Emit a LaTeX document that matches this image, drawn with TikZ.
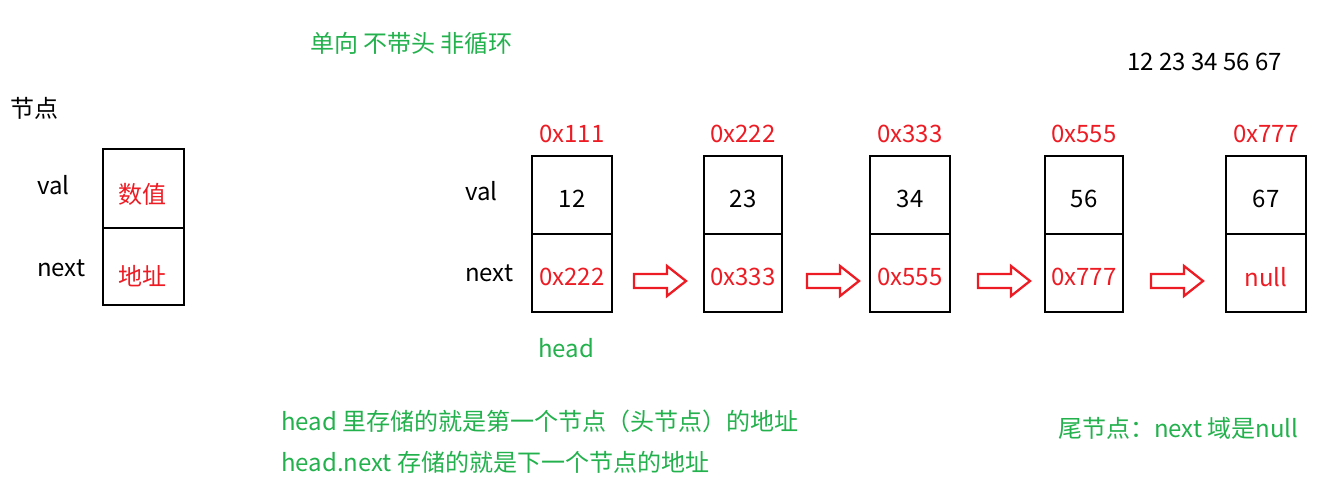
\documentclass[tikz,border=0pt]{standalone}
\usepackage{fontspec}
\setmainfont{Noto Sans CJK SC}
\begin{document}
\begin{tikzpicture}[x=1pt,y=-1pt,
  lbl/.style={inner sep=0pt,anchor=west,font=\fontsize{24}{27}\selectfont},
  grn/.style={lbl,text={rgb,255:red,34;green,177;blue,76}},
  rd/.style={lbl,text={rgb,255:red,237;green,28;blue,36}},
  cell/.style={draw,line width=2.5pt},
  harrow/.style={draw={rgb,255:red,237;green,28;blue,36},line width=2.3pt,line join=miter}]
\useasboundingbox (0,0) rectangle (1326,480);
\node[grn] (t) at (310,43) {单向 不带头 非循环};
\node[lbl] (seq) at (1127,62) {12 23 34 56 67};
\node[lbl] (jd) at (10,108) {节点};
\node[lbl] (v0) at (37,185) {val};
\node[lbl] (n0) at (37,268) {next};
\draw[cell] (103,149) rectangle (184,305);
\draw[cell] (103,228) -- (184,228);
\node[rd] (a0) at (118,194) {数值};
\node[rd] (b0) at (118,276) {地址};
\node[lbl] (v1) at (465,191) {val};
\node[lbl] (n1) at (465,273) {next};
\foreach \x/\w/\ad/\va/\nx/\i in {532/80/0x111/12/0x222/1,704/78/0x222/23/0x333/2,870/80/0x333/34/0x555/3,1045/78/0x555/56/0x777/4,1226/80/0x777/67/null/5}{
  \draw[cell] (\x,156) rectangle (\x+\w,312);
  \draw[cell] (\x,234) -- (\x+\w,234);
  \node[rd,anchor=center] (ad\i) at (\x+\w/2,134) {\ad};
  \node[lbl,anchor=center] (va\i) at (\x+\w/2,199) {\va};
  \node[rd,anchor=center] (nx\i) at (\x+\w/2,277) {\nx};
}
\foreach \x in {634,807,978,1151}{
  \draw[harrow] (\x,274) -- (\x+33,274) -- (\x+33,266) -- (\x+52,281) -- (\x+33,296) -- (\x+33,288) -- (\x,288) -- cycle;
}
\node[grn] (hd) at (538,348) {head};
\node[grn] (c1) at (281,421) {head 里存储的就是第一个节点（头节点）的地址};
\node[grn] (c2) at (281,462) {head.next 存储的就是下一个节点的地址};
\node[grn] (c3) at (1058,428) {尾节点：next 域是null};
\end{tikzpicture}
\end{document}
